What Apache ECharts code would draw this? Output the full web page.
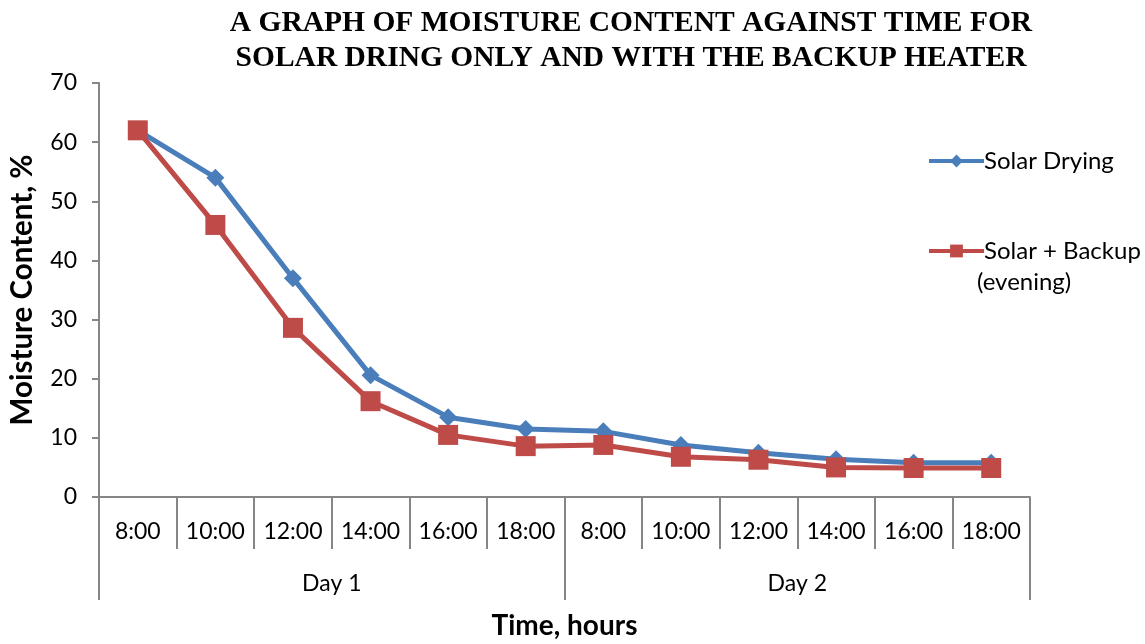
<!DOCTYPE html>
<html>
<head>
<meta charset="utf-8">
<script src="https://cdn.jsdelivr.net/npm/echarts@6/dist/echarts.min.js"></script>
<style>
  html, body { margin: 0; padding: 0; background: #ffffff; }
  #chart { width: 1145px; height: 644px; }
</style>
</head>
<body>
<div id="chart"></div>
<script>
const timeLabels = ["8:00", "10:00", "12:00", "14:00", "16:00", "18:00", "8:00", "10:00", "12:00", "14:00", "16:00", "18:00"];
const dayLabels = ["Day 1", "Day 2"];
const solarDrying = [62, 54, 37, 20.6, 13.5, 11.5, 11.1, 8.8, 7.5, 6.4, 5.8, 5.8];
const solarBackup = [62, 46, 28.6, 16.2, 10.5, 8.6, 8.8, 6.8, 6.3, 5.0, 4.9, 4.9];

const BLUE = "#4a7ebb"; // Solar Drying
const RED = "#be4b48"; // Solar + Backup
const AXIS_GRAY = "#868686";
const FONT = "Lato";

const chart = echarts.init(document.getElementById("chart"));

// x 轴用位置索引做类目，避免重复的 "8:00" 被合并
const xIndex = timeLabels.map((_, i) => String(i));

const option = {
  backgroundColor: "#ffffff",
  animation: false,
  title: {
    text: "A GRAPH OF MOISTURE CONTENT AGAINST TIME FOR\nSOLAR DRING ONLY AND WITH THE BACKUP HEATER",
    left: 626,
    top: 1,
    textAlign: "center",
    textStyle: {
      fontFamily: "Liberation Serif",
      fontWeight: "bold",
      fontSize: 29.5,
      lineHeight: 35,
      color: "#000000",
    },
  },
  legend: {
    orient: "vertical",
    left: 922,
    top: 144,
    itemWidth: 55,
    itemHeight: 16,
    itemGap: 66,
    data: ["Solar Drying", "Solar + Backup (evening)"],
    formatter: (name) => (name === "Solar Drying" ? name : "Solar + Backup"),
    lineStyle: { width: 4 },
    textStyle: {
      fontFamily: FONT,
      fontSize: 24,
      color: "#000000",
      padding: [0, 0, 0, -5],
    },
  },
  graphic: [
    {
      type: "text",
      left: 977,
      top: 270,
      style: {
        text: "(evening)",
        fontFamily: FONT,
        fontSize: 24,
        fill: "#000000",
      },
    },
  ],
  grid: { left: 99, right: 115, top: 83, bottom: 147, outerBoundsMode: "none", containLabel: false },
  xAxis: [
    {
      type: "category",
      data: xIndex,
      boundaryGap: true,
      axisLine: { show: true, lineStyle: { color: AXIS_GRAY, width: 2 } },
      axisTick: { show: true, interval: 0, length: 52, lineStyle: { color: AXIS_GRAY, width: 2 } },
      axisLabel: {
        interval: 0,
        margin: 23,
        fontFamily: FONT,
        fontSize: 23,
        color: "#000000",
        formatter: (v) => timeLabels[Number(v)],
      },
    },
    {
      type: "category",
      data: dayLabels,
      position: "bottom",
      offset: 51,
      boundaryGap: true,
      axisLine: { show: false },
      axisTick: { show: true, interval: 0, length: 52, lineStyle: { color: AXIS_GRAY, width: 2 } },
      axisLabel: {
        interval: 0,
        margin: 24,
        fontFamily: FONT,
        fontSize: 23,
        color: "#000000",
      },
      name: "Time, hours",
      nameLocation: "middle",
      nameGap: 64,
      nameTextStyle: {
        fontFamily: FONT,
        fontWeight: "bold",
        fontSize: 28,
        color: "#000000",
      },
    },
  ],
  yAxis: {
    type: "value",
    min: 0,
    max: 70,
    interval: 10,
    splitLine: { show: false },
    axisLine: { show: true, lineStyle: { color: AXIS_GRAY, width: 2 } },
    axisTick: { show: true, length: 7, lineStyle: { color: AXIS_GRAY, width: 2 } },
    axisLabel: {
      margin: 22,
      fontFamily: FONT,
      fontSize: 23,
      color: "#000000",
    },
    name: "Moisture Content, %",
    nameLocation: "middle",
    nameGap: 62,
    nameRotate: 90,
    nameTextStyle: {
      fontFamily: FONT,
      fontWeight: "bold",
      fontSize: 29.5,
      color: "#000000",
    },
  },
  series: [
    {
      name: "Solar Drying",
      type: "line",
      xAxisIndex: 0,
      data: solarDrying,
      symbol: "diamond",
      symbolSize: 18,
      showAllSymbol: true,
      itemStyle: { color: BLUE },
      lineStyle: { color: BLUE, width: 5 },
      z: 2,
    },
    {
      name: "Solar + Backup (evening)",
      type: "line",
      xAxisIndex: 0,
      data: solarBackup,
      symbol: "rect",
      symbolSize: 20,
      showAllSymbol: true,
      itemStyle: { color: RED },
      lineStyle: { color: RED, width: 5 },
      z: 3,
    },
  ],
};

chart.setOption(option);
</script>
</body>
</html>
